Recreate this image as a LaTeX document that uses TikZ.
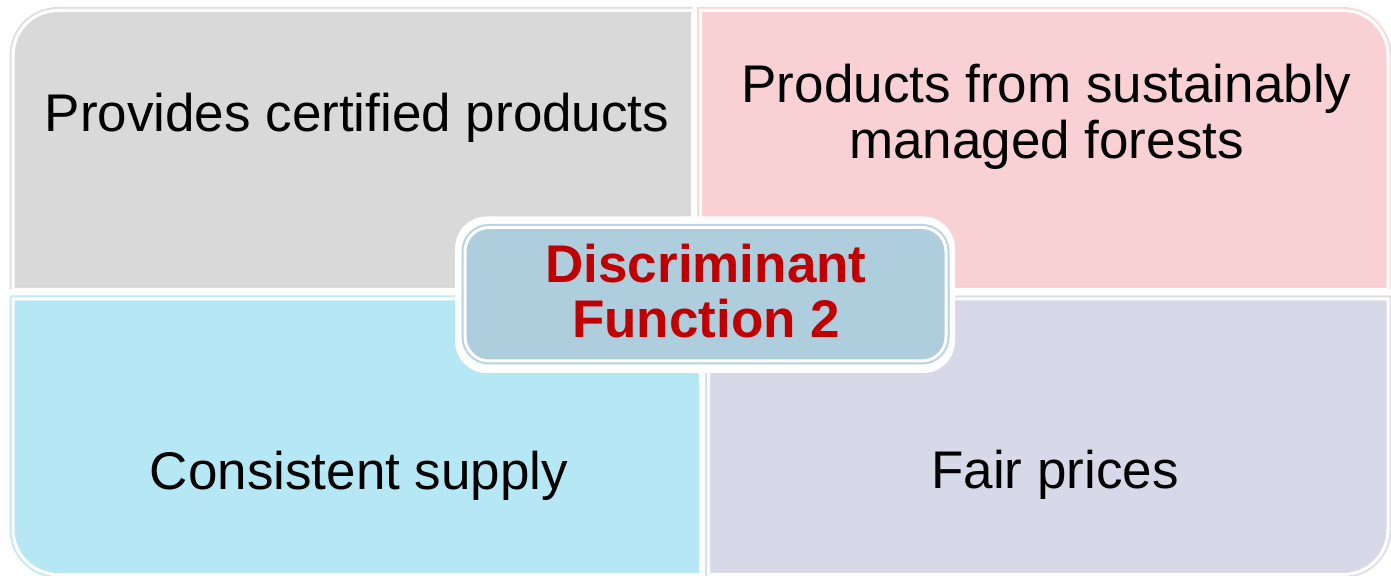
\documentclass[tikz,border=0pt]{standalone}
\usepackage{fontspec}
\setmainfont{Liberation Sans}
\usepackage{xcolor}
\usepackage{tikz}
\usetikzlibrary{positioning}
\definecolor{quadgray}{RGB}{217,217,217}
\definecolor{quadpink}{RGB}{249,208,211}
\definecolor{quadcyan}{RGB}{181,232,244}
\definecolor{quadlilac}{RGB}{215,216,232}
\definecolor{centerblue}{RGB}{175,206,221}
\definecolor{titlered}{RGB}{192,0,0}

\begin{document}
\begin{tikzpicture}[
    x=0.5pt, y=0.5pt,
    quad/.style={draw=white, line width=1.5pt},
    glow/.style={line width=3.5pt},
    quadtext/.style={font=\fontsize{26.5}{27.75}\selectfont, align=center, inner sep=0pt},
    whitebox/.style={fill=white, rounded corners=16pt, minimum width=250pt, minimum height=78.25pt, inner sep=0pt},
    dfbox/.style={fill=centerblue, draw=white, line width=1.5pt, rounded corners=12pt,
        preaction={draw=centerblue!90!white, line width=3.5pt},
        minimum width=240.5pt, minimum height=66.75pt, inner sep=0pt},
    dftext/.style={quadtext, font=\fontsize{26.5}{27.75}\selectfont\bfseries, text=titlered}
]
    \useasboundingbox (0,0) rectangle (1391,576);

    % four quadrants, only the outer corner is rounded
    \draw[glow, quadgray!85!white] (13,286.5) -- (13,520.5) arc[start angle=180, end angle=90, radius=22.5pt] -- (692.5,565.5);
    \draw[quad, fill=quadgray] (692.5,286.5) -- (13,286.5) -- (13,520.5) arc[start angle=180, end angle=90, radius=22.5pt] -- (692.5,565.5) -- cycle;

    \draw[glow, quadpink!85!white] (700.5,286.5) -- (700.5,565.5) -- (1343,565.5) arc[start angle=90, end angle=0, radius=22.5pt] -- (1388,286.5);
    \draw[quad, fill=quadpink] (700.5,286.5) -- (700.5,565.5) -- (1343,565.5) arc[start angle=90, end angle=0, radius=22.5pt] -- (1388,286.5) -- cycle;

    \draw[glow, quadcyan!85!white] (700.5,1.5) -- (58,1.5) arc[start angle=270, end angle=180, radius=22.5pt] -- (13,277) -- (700.5,277);
    \draw[quad, fill=quadcyan] (13,277) -- (700.5,277) -- (700.5,1.5) -- (58,1.5) arc[start angle=270, end angle=180, radius=22.5pt] -- cycle;

    \draw[glow, quadlilac!85!white] (708.5,277) -- (1388,277) -- (1388,46.5) arc[start angle=0, end angle=-90, radius=22.5pt] -- (708.5,1.5) -- cycle;
    \draw[quad, fill=quadlilac] (708.5,277) -- (1388,277) -- (1388,46.5) arc[start angle=0, end angle=-90, radius=22.5pt] -- (708.5,1.5) -- cycle;

    \node[quadtext, anchor=base] (certified) at (357,444) {Provides certified products};
    \node[quadtext] (forests) at (1046.5,459.2) {Products from sustainably\\managed forests};
    \node[quadtext, anchor=base] (supply) at (359,86) {Consistent supply};
    \node[quadtext, anchor=base] (prices) at (1055,87) {Fair prices};

    % center box
    \node[whitebox] (dfback) at (705,281.25) {};
    \node[dfbox] (dfbox) at (705.5,281.75) {};
    \node[dftext] (df) at (706,285) {Discriminant\\Function 2};
\end{tikzpicture}
\end{document}
